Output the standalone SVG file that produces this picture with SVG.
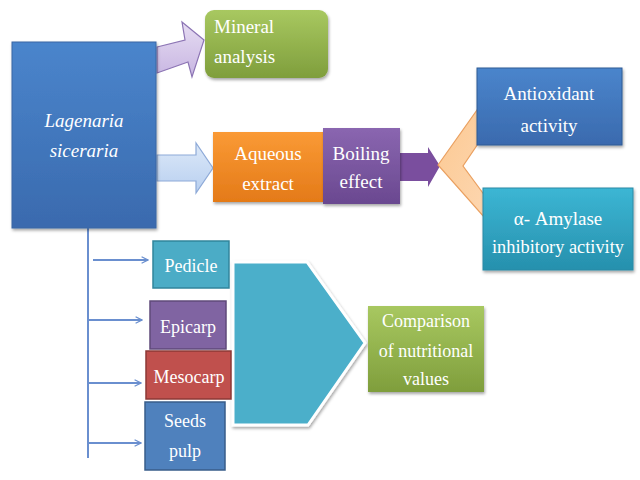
<svg xmlns="http://www.w3.org/2000/svg" width="640" height="480" viewBox="0 0 640 480">
<defs>
<linearGradient id="gBlue" x1="0" y1="0" x2="0" y2="1"><stop offset="0" stop-color="#4a85cc"/><stop offset="1" stop-color="#3a6aae"/></linearGradient>
<linearGradient id="gGreen" x1="0" y1="0" x2="0" y2="1"><stop offset="0" stop-color="#a8c860"/><stop offset="1" stop-color="#7f9e3c"/></linearGradient>
<linearGradient id="gOrange" x1="0" y1="0" x2="0" y2="1"><stop offset="0" stop-color="#fa9a35"/><stop offset="1" stop-color="#e47a18"/></linearGradient>
<linearGradient id="gPurple" x1="0" y1="0" x2="0" y2="1"><stop offset="0" stop-color="#8a66b0"/><stop offset="1" stop-color="#6a4890"/></linearGradient>
<linearGradient id="gTeal" x1="0" y1="0" x2="0" y2="1"><stop offset="0" stop-color="#3cb6d4"/><stop offset="1" stop-color="#2690ad"/></linearGradient>
<linearGradient id="gLav" x1="0" y1="0" x2="0" y2="1"><stop offset="0" stop-color="#e6dcf2"/><stop offset="1" stop-color="#c8b6e2"/></linearGradient>
<linearGradient id="gLB" x1="0" y1="0" x2="0" y2="1"><stop offset="0" stop-color="#dce8f8"/><stop offset="1" stop-color="#b8cff0"/></linearGradient>
<linearGradient id="gPeach" x1="0" y1="0" x2="1" y2="1"><stop offset="0" stop-color="#fcc890"/><stop offset="1" stop-color="#fdd8b4"/></linearGradient>
<filter id="sh" x="-10%" y="-10%" width="130%" height="130%"><feDropShadow dx="1" dy="2" stdDeviation="1.5" flood-color="#000" flood-opacity="0.35"/></filter>
<marker id="ah" viewBox="0 0 10 10" refX="9" refY="5" markerWidth="8" markerHeight="8" markerUnits="userSpaceOnUse" orient="auto"><path d="M1,1 L9,5 L1,9" fill="none" stroke="#6a8fcf" stroke-width="1.6"/></marker>
<style>
text{fill:#fff;text-anchor:middle}
.l{text-anchor:start}
.it{font-style:italic}
.conn{stroke:#6a8fcf;stroke-width:2;fill:none}
</style>
</defs>
<g id="connectors">
<polygon points="157,47 185,40 182,22 204,40 192,77 188,62 157,73" fill="url(#gLav)" stroke="#8c74b4" stroke-width="1.2"/>
<polygon points="157,155 196,155 196,143 213,168 196,193 196,181 157,181" fill="url(#gLB)" stroke="#8eaad8" stroke-width="1.2"/>
<polygon points="400,153 428,153 428,147 440,166 428,187 428,181 400,181" fill="#7a4e9e"/>
<polygon points="438,165 482,103 493,99 486,132 463,166 488,200 496,220 484,217" fill="url(#gPeach)" stroke="#eaa060" stroke-width="1.2"/>
<line class="conn" x1="88" y1="228" x2="88" y2="458"/>
<line class="conn" x1="93" y1="260" x2="148" y2="260" marker-end="url(#ah)"/>
<line class="conn" x1="88" y1="320" x2="142" y2="320" marker-end="url(#ah)"/>
<line class="conn" x1="88" y1="383" x2="141" y2="383" marker-end="url(#ah)"/>
<line class="conn" x1="88" y1="443" x2="141" y2="443" marker-end="url(#ah)"/>
<polygon points="233,262 307,262 365,343 308,425 233,425" fill="#4bafca" stroke="#fff" stroke-width="3" filter="url(#sh)"/>
</g>
<g font-family="Liberation Serif, Tinos, DejaVu Serif, serif" font-size="19">
<g id="lagenaria">
<rect x="12" y="42" width="144" height="186" fill="url(#gBlue)" stroke="#3a66a4" filter="url(#sh)"/>
<text class="it" x="84" y="127">Lagenaria</text>
<text class="it" x="84" y="157">siceraria</text>
</g>
<g id="mineral">
<rect x="205" y="10" width="123" height="68" rx="9" fill="url(#gGreen)" filter="url(#sh)"/>
<text class="l" x="214" y="33">Mineral</text>
<text class="l" x="214" y="63">analysis</text>
</g>
<g id="aqueous">
<rect x="213" y="132" width="110" height="70" fill="url(#gOrange)" filter="url(#sh)"/>
<text x="268" y="160">Aqueous</text>
<text x="268" y="190">extract</text>
</g>
<g id="boiling">
<rect x="323" y="128" width="77" height="76" fill="url(#gPurple)" filter="url(#sh)"/>
<text x="361" y="160">Boiling</text>
<text x="361" y="188">effect</text>
</g>
<g id="antioxidant">
<rect x="477" y="68" width="145" height="77" fill="url(#gBlue)" stroke="#2f5a94" filter="url(#sh)"/>
<text x="549" y="100">Antioxidant</text>
<text x="549" y="132">activity</text>
</g>
<g id="amylase">
<rect x="483" y="188" width="150" height="82" fill="url(#gTeal)" stroke="#2a8aa6" filter="url(#sh)"/>
<text x="558" y="225">α- Amylase</text>
<text x="558" y="253" textLength="132" lengthAdjust="spacingAndGlyphs">inhibitory activity</text>
</g>
<g id="pedicle" font-size="18">
<rect x="153" y="241" width="76" height="47" fill="#4bacc6" stroke="#31859c" stroke-width="1.5"/>
<text x="191" y="272">Pedicle</text>
</g>
<g id="epicarp" font-size="18">
<rect x="150" y="301" width="76" height="48" fill="#8064a2" stroke="#5f497a" stroke-width="1.5"/>
<text x="188" y="333">Epicarp</text>
</g>
<g id="mesocarp" font-size="18">
<rect x="146" y="351" width="85" height="48" fill="#c0504d" stroke="#8c3836" stroke-width="1.5"/>
<text x="189" y="383">Mesocarp</text>
</g>
<g id="seeds" font-size="18">
<rect x="145" y="402" width="80" height="68" fill="#4f81bd" stroke="#385d8a" stroke-width="1.5"/>
<text x="185" y="427">Seeds</text>
<text x="185" y="457">pulp</text>
</g>
<g id="comparison" font-size="18">
<rect x="368" y="306" width="116" height="86" fill="url(#gGreen)" filter="url(#sh)"/>
<text x="426" y="327">Comparison</text>
<text x="426" y="357">of nutritional</text>
<text x="426" y="385">values</text>
</g>
</g>
</svg>
